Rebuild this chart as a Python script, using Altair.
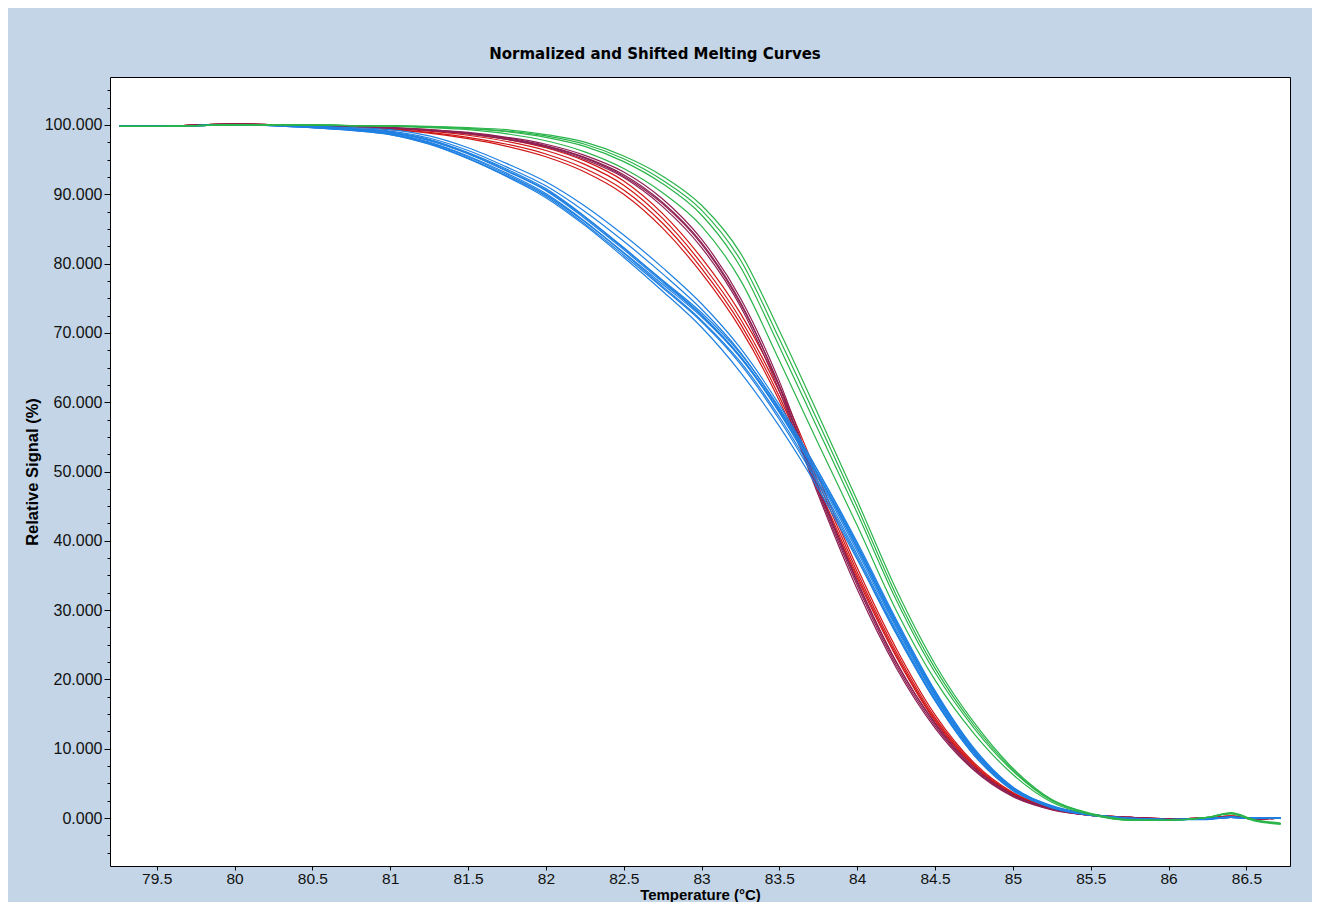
import altair as alt
import pandas as pd

temps = [79.26, 79.5, 80.0, 80.5, 80.75, 81.0, 81.25, 81.5, 81.75, 82.0,
         82.25, 82.5, 82.75, 83.0, 83.25, 83.5, 83.75, 84.0, 84.25, 84.5,
         84.75, 85.0, 85.25, 85.5, 85.75, 86.0, 86.25, 86.4, 86.55, 86.72]

# Blue group
B1 = [99.8, 99.8, 100.0, 99.7, 99.4, 98.9, 97.7, 95.8, 93.3, 90.5, 86.5, 82.0, 77.3, 72.5, 66.5, 58.5, 49.0, 38.5, 27.5, 17.5, 9.5, 4.2, 1.6, 0.5, -0.1, -0.2, -0.1, 0.1, 0.0, 0.0]
B2 = [99.8, 99.8, 100.0, 99.7, 99.3, 98.7, 97.4, 95.4, 92.8, 89.9, 86.0, 81.6, 77.0, 72.3, 66.4, 58.6, 49.3, 38.9, 27.8, 17.7, 9.6, 4.3, 1.7, 0.5, -0.1, -0.2, -0.1, 0.2, 0.0, 0.0]
B3 = [99.8, 99.8, 100.0, 99.6, 99.3, 98.8, 97.5, 95.5, 93.0, 90.1, 86.1, 81.5, 76.7, 71.8, 65.8, 57.9, 48.5, 38.0, 27.1, 17.2, 9.3, 4.1, 1.6, 0.5, -0.1, -0.2, -0.2, 0.1, 0.0, 0.0]
B4 = [99.8, 99.8, 100.0, 99.7, 99.4, 99.0, 97.9, 96.0, 93.6, 90.8, 86.8, 82.3, 77.5, 72.6, 66.6, 58.8, 49.6, 39.3, 28.3, 18.1, 9.9, 4.4, 1.7, 0.6, 0.0, -0.2, -0.1, 0.1, 0.0, 0.0]
B5 = [99.8, 99.8, 100.0, 99.6, 99.2, 98.6, 97.3, 95.2, 92.6, 89.7, 85.7, 81.2, 76.5, 71.6, 65.5, 57.5, 48.1, 37.6, 26.8, 17.0, 9.1, 4.0, 1.5, 0.4, -0.1, -0.2, -0.1, 0.1, 0.0, 0.0]
B6 = [99.8, 99.8, 100.0, 99.7, 99.4, 98.9, 97.8, 95.9, 93.4, 90.6, 86.7, 82.2, 77.6, 72.9, 67.0, 59.2, 50.0, 39.8, 28.7, 18.4, 10.1, 4.5, 1.8, 0.6, 0.0, -0.2, -0.1, 0.1, 0.0, 0.0]
B7 = [99.8, 99.8, 100.0, 99.8, 99.6, 99.3, 98.4, 96.7, 94.4, 91.8, 88.3, 84.1, 79.4, 74.2, 67.8, 59.6, 50.0, 39.5, 28.4, 18.2, 9.9, 4.4, 1.7, 0.5, -0.1, -0.2, -0.1, 0.1, 0.0, 0.0]
B8 = [99.8, 99.8, 100.0, 99.8, 99.5, 99.1, 98.1, 96.3, 93.9, 91.2, 87.5, 83.2, 78.5, 73.4, 67.2, 59.0, 49.5, 39.0, 28.0, 17.9, 9.7, 4.3, 1.6, 0.5, -0.1, -0.2, -0.1, 0.1, 0.0, 0.0]
B9 = [99.8, 99.8, 100.0, 99.6, 99.2, 98.6, 97.2, 95.1, 92.5, 89.5, 85.5, 80.9, 76.0, 70.8, 64.3, 56.5, 47.5, 37.3, 26.6, 16.9, 9.1, 4.0, 1.5, 0.4, -0.1, -0.2, -0.1, 0.1, 0.0, 0.0]

# Red group
R1 = [99.8, 99.8, 100.1, 99.9, 99.8, 99.5, 99.1, 98.5, 97.6, 96.3, 94.3, 91.3, 86.5, 80.0, 72.0, 61.5, 48.5, 35.5, 24.0, 14.5, 7.8, 3.6, 1.5, 0.5, 0.1, -0.1, 0.0, 0.3, -0.1, 0.0]
R2 = [99.8, 99.8, 100.1, 99.9, 99.8, 99.4, 98.9, 98.2, 97.2, 95.8, 93.7, 90.6, 85.8, 79.3, 71.3, 60.8, 47.8, 35.0, 23.6, 14.2, 7.6, 3.5, 1.4, 0.5, 0.1, -0.1, 0.0, 0.3, -0.1, 0.0]
R3 = [99.8, 99.8, 100.1, 99.9, 99.8, 99.5, 99.2, 98.7, 97.9, 96.7, 94.8, 91.9, 87.2, 80.8, 72.8, 62.3, 49.2, 36.1, 24.5, 14.9, 8.0, 3.7, 1.5, 0.5, 0.1, -0.1, 0.0, 0.3, -0.1, 0.0]
R4 = [99.8, 99.8, 100.1, 99.9, 99.7, 99.3, 98.8, 98.0, 96.9, 95.4, 93.2, 90.0, 85.1, 78.6, 70.6, 60.2, 47.3, 34.6, 23.3, 14.0, 7.5, 3.4, 1.4, 0.4, 0.1, -0.1, 0.0, 0.3, -0.1, 0.0]

# Maroon group
M1 = [99.8, 99.8, 100.1, 99.9, 99.8, 99.6, 99.3, 98.9, 98.2, 97.2, 95.6, 93.2, 89.3, 83.5, 75.0, 63.0, 47.8, 34.2, 22.6, 13.6, 7.2, 3.3, 1.3, 0.4, 0.1, -0.1, 0.0, 0.2, -0.1, 0.0]
M2 = [99.8, 99.8, 100.1, 99.9, 99.8, 99.6, 99.3, 98.8, 98.1, 97.0, 95.3, 92.8, 88.8, 83.0, 74.4, 62.2, 47.0, 33.6, 22.1, 13.3, 7.0, 3.2, 1.3, 0.4, 0.1, -0.1, 0.0, 0.2, -0.1, 0.0]
M3 = [99.8, 99.8, 100.1, 99.9, 99.8, 99.5, 99.2, 98.7, 97.9, 96.8, 95.0, 92.4, 88.2, 82.3, 73.8, 61.6, 46.6, 33.0, 21.7, 13.0, 6.9, 3.1, 1.2, 0.4, 0.1, -0.1, 0.0, 0.2, -0.1, 0.0]
M4 = [99.8, 99.8, 100.1, 99.9, 99.8, 99.6, 99.2, 98.8, 98.0, 96.9, 95.2, 92.6, 88.6, 82.8, 74.2, 62.4, 47.4, 34.0, 22.5, 13.7, 7.3, 3.4, 1.4, 0.5, 0.1, -0.1, 0.0, 0.2, -0.1, 0.0]

# Green group
G1 = [99.8, 99.8, 100.0, 100.0, 99.9, 99.8, 99.7, 99.5, 99.0, 98.2, 96.9, 94.7, 91.5, 87.0, 79.5, 68.0, 56.0, 44.0, 31.5, 21.0, 13.0, 6.8, 2.5, 0.6, -0.3, -0.3, 0.1, 0.7, -0.3, -0.8]
G2 = [99.8, 99.8, 100.0, 100.0, 99.9, 99.9, 99.8, 99.6, 99.3, 98.6, 97.5, 95.5, 92.6, 88.4, 81.5, 70.3, 58.2, 45.8, 33.0, 22.2, 13.8, 7.2, 2.7, 0.7, -0.2, -0.3, 0.1, 0.6, -0.4, -0.9]
G3 = [99.8, 99.8, 100.0, 100.0, 99.9, 99.8, 99.6, 99.3, 98.7, 97.7, 96.1, 93.7, 90.2, 85.4, 77.6, 66.0, 54.0, 42.2, 30.0, 19.9, 12.2, 6.3, 2.3, 0.5, -0.3, -0.3, 0.1, 0.8, -0.2, -0.7]
G4 = [99.8, 99.8, 100.0, 100.0, 99.9, 99.9, 99.7, 99.5, 99.1, 98.4, 97.2, 95.1, 92.0, 87.7, 80.5, 69.1, 57.1, 44.9, 32.2, 21.6, 13.4, 7.0, 2.6, 0.6, -0.3, -0.3, 0.1, 0.7, -0.3, -0.8]

groups = {
    "red": ("#d11616", [R1, R2, R3, R4]),
    "maroon": ("#8e2052", [M1, M2, M3, M4]),
    "blue": ("#1f80e2", [B1, B2, B3, B4, B5, B6, B7, B8, B9]),
    "green": ("#2bb44a", [G1, G2, G3, G4]),
}
draw_order = ["red", "maroon", "blue", "green"]

x_ticks = [79.5, 80, 80.5, 81, 81.5, 82, 82.5, 83, 83.5, 84, 84.5, 85, 85.5, 86, 86.5]
y_ticks = [-5, -2.5, 0, 2.5, 5, 7.5, 10, 12.5, 15, 17.5, 20, 22.5, 25, 27.5, 30,
           32.5, 35, 37.5, 40, 42.5, 45, 47.5, 50, 52.5, 55, 57.5, 60, 62.5, 65,
           67.5, 70, 72.5, 75, 77.5, 80, 82.5, 85, 87.5, 90, 92.5, 95, 97.5, 100,
           102.5, 105]

rows = []
for g in draw_order:
    for i, vals in enumerate(groups[g][1]):
        for t, v in zip(temps, vals):
            rows.append({"group": g, "curve": f"{g}{i}", "temp": t, "signal": v})
df = pd.DataFrame(rows)

PW, PH = 1180, 789
LABEL_FONT = "Liberation Sans"

x_enc = alt.X(
    "temp:Q",
    scale=alt.Scale(domain=[79.2, 86.78], nice=False, zero=False),
    axis=alt.Axis(
        values=x_ticks, format=".1~f", title="Temperature (°C)",
        titleFont=LABEL_FONT, titleFontSize=15, titleFontWeight="bold",
        titleColor="#000", titleX=PW / 2, titleY=33, titleAlign="center",
        titleBaseline="alphabetic",
        labelFont=LABEL_FONT, labelFontSize=15.5, labelColor="#111",
        labelPadding=1, tickSize=4, tickColor="#000", domain=False,
        grid=False, labelOverlap=False, labelFlush=False,
    ),
)
y_enc = alt.Y(
    "signal:Q",
    scale=alt.Scale(domain=[-6.9, 106.9], nice=False, zero=False),
    axis=alt.Axis(
        values=y_ticks,
        labelExpr="datum.value % 10 === 0 ? format(datum.value, '.3f') : ''",
        title="Relative Signal (%)",
        titleFont=LABEL_FONT, titleFontSize=16.5, titleFontWeight="bold",
        titleColor="#000", titleX=-73, titleY=PH / 2, titleAngle=270,
        titleAlign="center", titleBaseline="alphabetic",
        labelFont=LABEL_FONT, labelFontSize=16, labelColor="#111",
        labelPadding=2,
        tickSize={"condition": {"test": "datum.value % 10 === 0", "value": 6}, "value": 3},
        tickColor="#000", domain=False, grid=False, labelOverlap=False,
        labelFlush=False,
    ),
)

layers = []
for g in draw_order:
    color = groups[g][0]
    layers.append(
        alt.Chart(df)
        .transform_filter(alt.datum.group == g)
        .mark_line(color=color, strokeWidth=1.2, interpolate="monotone")
        .encode(x=x_enc, y=y_enc, detail="curve:N", order="temp:Q")
    )

chart = (
    alt.layer(*layers)
    .properties(
        width=PW,
        height=PH,
        autosize=alt.AutoSizeParams(type="none"),
        padding={"left": 102, "top": 69, "right": 22, "bottom": 36},
        background="#c3d5e6",
        title=alt.TitleParams(
            "Normalized and Shifted Melting Curves",
            font="DejaVu Sans", fontSize=15, fontWeight="bold", color="#000",
            anchor="middle", dx=-45, offset=15,
        ),
    )
    .configure_view(stroke="#000", strokeWidth=1, fill="white")
)

chart.save("out.html", embed_options={"renderer": "svg", "actions": False})
